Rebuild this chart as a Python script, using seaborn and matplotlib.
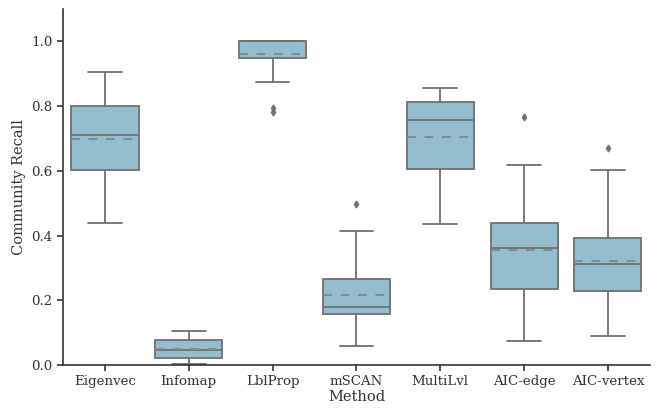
import numpy as np
import pandas as pd
import seaborn as sns
import matplotlib
matplotlib.use("Agg")
import matplotlib.pyplot as plt

methods = ["Eigenvec", "Infomap", "LblProp", "mSCAN", "MultiLvl", "AIC-edge", "AIC-vertex"]

eigenvec = [0.44, 0.52, 0.604, 0.66, 0.712, 0.76, 0.80, 0.871, 0.906]
infomap = [0.004, 0.015, 0.022, 0.035, 0.045, 0.055, 0.078, 0.082, 0.105]
lblprop = [0.783, 0.795, 0.876, 0.93, 0.948, 0.988, 1.0, 1.0, 1.0,
           1.0, 1.0, 1.0, 1.0, 1.0, 1.0, 1.0, 1.0]
mscan = [0.06, 0.08, 0.12, 0.157, 0.16, 0.17, 0.18, 0.19, 0.22, 0.265,
         0.281, 0.415, 0.497]
multilvl = [0.435, 0.50, 0.605, 0.75, 0.757, 0.78, 0.813, 0.848, 0.857]
aic_edge = [0.074, 0.10, 0.18, 0.236, 0.25, 0.30, 0.36, 0.37, 0.40, 0.44,
            0.52, 0.618, 0.767]
aic_vertex = [0.089, 0.10, 0.14, 0.23, 0.24, 0.27, 0.313, 0.32, 0.35, 0.393,
              0.44, 0.603, 0.672]

series = [eigenvec, infomap, lblprop, mscan, multilvl, aic_edge, aic_vertex]
df = pd.DataFrame({
    "Method": [m for m, s in zip(methods, series) for _ in s],
    "Community Recall": [v for s in series for v in s],
})

sns.set_theme(style="ticks")
plt.rcParams["font.family"] = ["DejaVu Serif"]
plt.rcParams["axes.linewidth"] = 1.2
plt.rcParams["xtick.major.width"] = 1.2
plt.rcParams["ytick.major.width"] = 1.2
plt.rcParams["xtick.major.size"] = 4
plt.rcParams["ytick.major.size"] = 4

fig = plt.figure(figsize=(6.57, 4.11), dpi=100)
ax = fig.add_axes([0.096, 0.112, 0.893, 0.866])

gray = "#707070"
sns.boxplot(data=df, x="Method", y="Community Recall", order=methods,
            color="#94bed0", saturation=1, linecolor=gray, linewidth=1.3,
            showmeans=True, meanline=True,
            meanprops=dict(color="#888888", linestyle=(0, (4.5, 4.5)), linewidth=1.4),
            flierprops=dict(marker="d", markersize=3.5, markerfacecolor=gray,
                            markeredgecolor=gray),
            ax=ax)

ax.set_ylim(0, 1.1)
ax.set_yticks([0.0, 0.2, 0.4, 0.6, 0.8, 1.0])
ax.tick_params(labelsize=9.6, colors="#333333", labelcolor="#333333")
for s in ax.spines.values():
    s.set_color("#333333")
ax.set_xlabel("Method", fontsize=10.5, labelpad=1, color="#333333")
ax.set_ylabel("Community Recall", fontsize=10.5, color="#333333")
sns.despine(ax=ax)

fig.savefig("out.png", dpi=100)
